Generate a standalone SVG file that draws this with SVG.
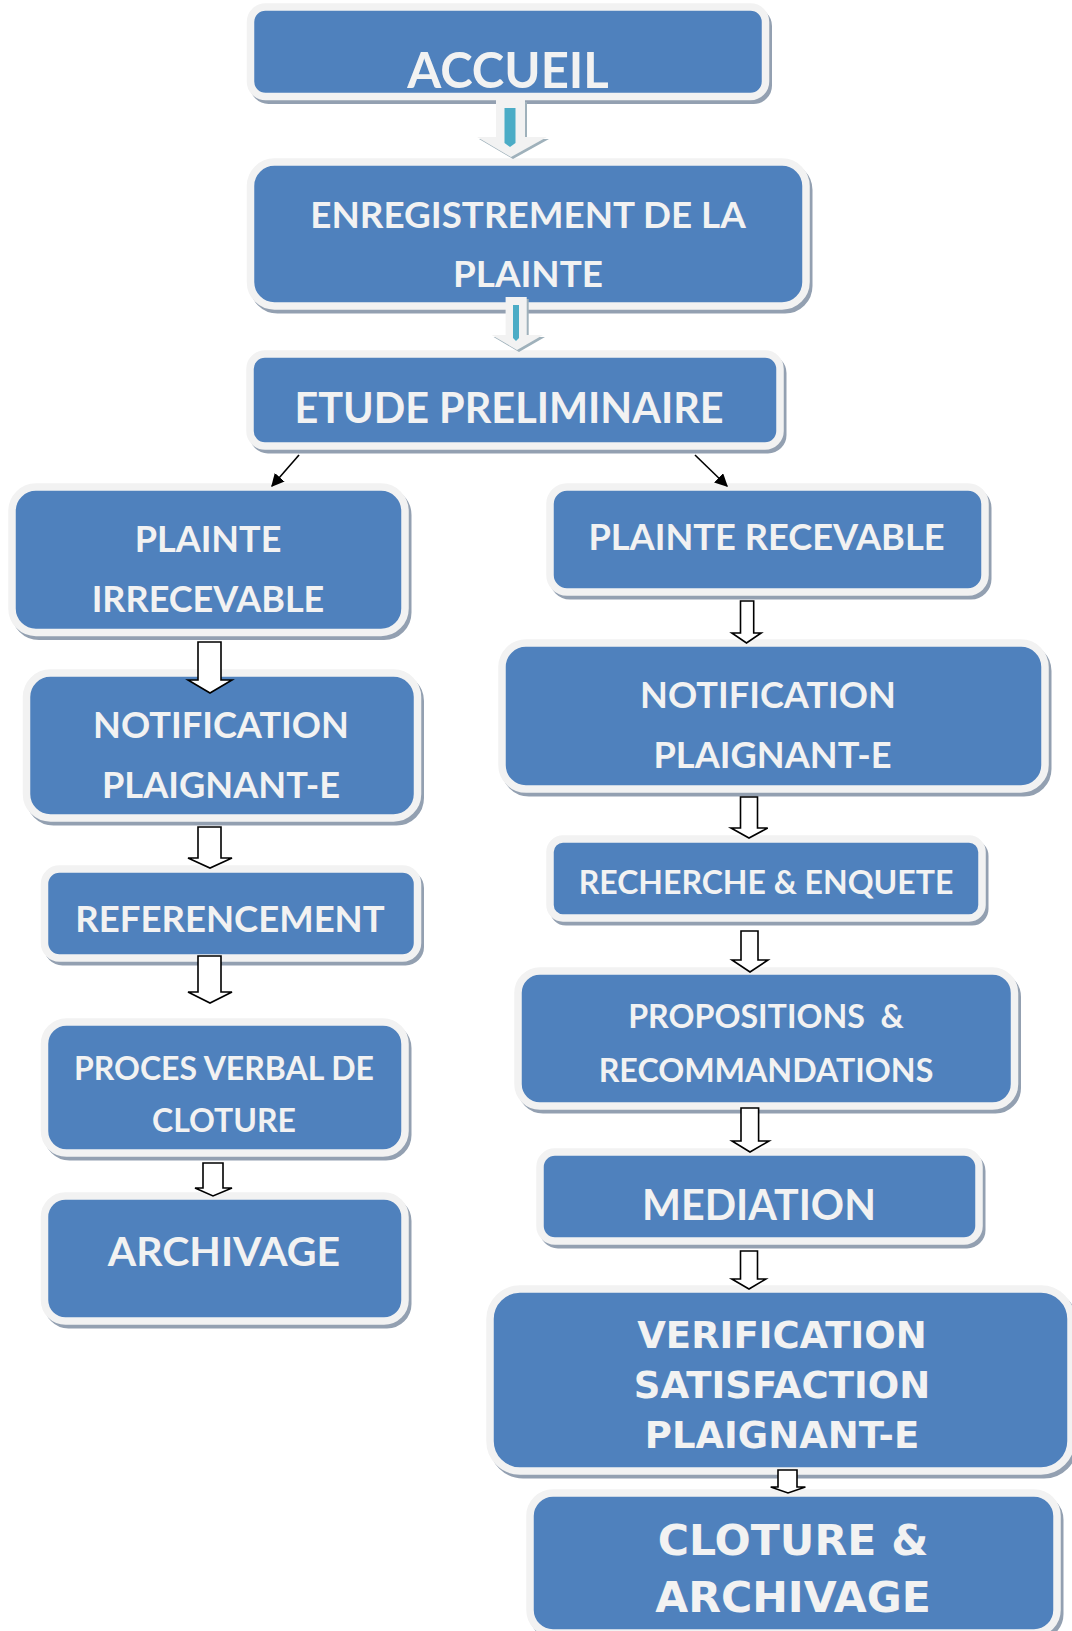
<svg xmlns="http://www.w3.org/2000/svg" width="1072" height="1631" viewBox="0 0 1072 1631">
<style>
.sh{fill:#93a0b1;stroke:#93a0b1;stroke-width:7}
.bx{fill:#4f81bd;stroke:#f2f2f2;stroke-width:7.5}
.t{font-family:Lato,"Noto Sans",sans-serif;font-weight:bold;fill:#f2f2f2;text-anchor:middle}
.d{font-family:"DejaVu Sans",sans-serif;font-weight:bold;fill:#f2f2f2;text-anchor:middle}
.ar{fill:#ffffff;stroke:#000000;stroke-width:1.6;stroke-linejoin:miter}
.ln{stroke:#000000;stroke-width:1.6;fill:none}
.ca{fill:#f2f2f2}
.cs{fill:#9fb1bb}
.cy{fill:#4bacc6}
</style>
<defs>
<marker id="ah" viewBox="0 0 10 10" refX="9" refY="5" markerWidth="13" markerHeight="13" markerUnits="userSpaceOnUse" orient="auto">
<path d="M0,0 L10,5 L0,10 z" fill="#000000"/>
</marker>
</defs>

<g id="n-accueil">
<rect class="sh" x="253.5" y="11" width="515" height="89.5" rx="15"/>
<rect class="bx" x="250.5" y="7" width="515" height="89.5" rx="15"/>
<text class="t" x="508" y="88" font-size="49">ACCUEIL</text>
</g>

<g id="n-enregistrement">
<rect class="sh" x="253.5" y="166" width="555.5" height="144" rx="24"/>
<rect class="bx" x="250.5" y="162" width="555.5" height="144" rx="24"/>
<text class="t" x="528" y="228" font-size="36.8">ENREGISTREMENT DE LA</text>
<text class="t" x="528" y="287" font-size="36.8">PLAINTE</text>
</g>

<g id="n-etude">
<rect class="sh" x="253" y="358" width="530" height="92" rx="15"/>
<rect class="bx" x="250" y="354" width="530" height="92" rx="15"/>
<text class="t" x="509" y="423" font-size="41.4">ETUDE PRELIMINAIRE</text>
</g>

<g id="n-irrecevable">
<rect class="sh" x="15" y="491" width="393" height="145.5" rx="24"/>
<rect class="bx" x="12" y="487" width="393" height="145.5" rx="24"/>
<text class="t" x="208" y="552" font-size="36">PLAINTE</text>
<text class="t" x="208" y="612" font-size="36">IRRECEVABLE</text>
</g>

<g id="n-notif-l">
<rect class="sh" x="29.5" y="677" width="391" height="145" rx="24"/>
<rect class="bx" x="26.5" y="673" width="391" height="145" rx="24"/>
<text class="t" x="221" y="738" font-size="36.2">NOTIFICATION</text>
<text class="t" x="221" y="798" font-size="36.2">PLAIGNANT-E</text>
</g>

<g id="n-referencement">
<rect class="sh" x="47.5" y="873" width="373" height="89" rx="15"/>
<rect class="bx" x="44.5" y="869" width="373" height="89" rx="15"/>
<text class="t" x="230" y="932" font-size="36.5">REFERENCEMENT</text>
</g>

<g id="n-proces">
<rect class="sh" x="47.5" y="1026" width="360.5" height="131" rx="22"/>
<rect class="bx" x="44.5" y="1022" width="360.5" height="131" rx="22"/>
<text class="t" x="224" y="1080" font-size="32">PROCES VERBAL DE</text>
<text class="t" x="224" y="1132" font-size="32">CLOTURE</text>
</g>

<g id="n-archivage">
<rect class="sh" x="47.5" y="1200" width="360.5" height="125" rx="21"/>
<rect class="bx" x="44.5" y="1196" width="360.5" height="125" rx="21"/>
<text class="t" x="224" y="1266" font-size="41">ARCHIVAGE</text>
</g>

<g id="n-recevable">
<rect class="sh" x="553" y="491" width="435" height="105" rx="17"/>
<rect class="bx" x="550" y="487" width="435" height="105" rx="17"/>
<text class="t" x="766.5" y="550" font-size="36.2">PLAINTE RECEVABLE</text>
</g>

<g id="n-notif-r">
<rect class="sh" x="505" y="647" width="543" height="146" rx="24"/>
<rect class="bx" x="502" y="643" width="543" height="146" rx="24"/>
<text class="t" x="768" y="708" font-size="36.2">NOTIFICATION</text>
<text class="t" x="772.5" y="768" font-size="36.2">PLAIGNANT-E</text>
</g>

<g id="n-recherche">
<rect class="sh" x="553" y="843" width="432" height="79" rx="13"/>
<rect class="bx" x="550" y="839" width="432" height="79" rx="13"/>
<text class="t" x="766" y="894" font-size="32">RECHERCHE &amp; ENQUETE</text>
</g>

<g id="n-propositions">
<rect class="sh" x="521" y="975" width="496.5" height="135" rx="22"/>
<rect class="bx" x="518" y="971" width="496.5" height="135" rx="22"/>
<text class="t" x="766" y="1028" font-size="32.2" xml:space="preserve">PROPOSITIONS  &amp;</text>
<text class="t" x="766" y="1082" font-size="32.2">RECOMMANDATIONS</text>
</g>

<g id="n-mediation">
<rect class="sh" x="543" y="1156" width="439" height="89" rx="15"/>
<rect class="bx" x="540" y="1152" width="439" height="89" rx="15"/>
<text class="t" x="759" y="1220" font-size="41.2">MEDIATION</text>
</g>

<g id="n-verification">
<rect class="sh" x="493" y="1293" width="581" height="182" rx="30"/>
<rect class="bx" x="490" y="1289" width="581" height="182" rx="30"/>
<text class="d" x="782" y="1348" font-size="37">VERIFICATION</text>
<text class="d" x="782" y="1398" font-size="37">SATISFACTION</text>
<text class="d" x="782" y="1448" font-size="37">PLAIGNANT-E</text>
</g>

<g id="n-cloture">
<rect class="sh" x="533" y="1497" width="527" height="140" rx="23"/>
<rect class="bx" x="530" y="1493" width="527" height="140" rx="23"/>
<text class="d" x="793" y="1555" font-size="42.6">CLOTURE &amp;</text>
<text class="d" x="793" y="1612" font-size="42.6">ARCHIVAGE</text>
</g>

<g id="connectors">
<path class="cs" d="M498,102 H527 V139 H549 L513,159 L479,139 H498 Z"/>
<path class="ca" d="M496,100 H525 V137 H547 L511,157 L477,137 H496 Z"/>
<path class="cy" d="M504.5,108 H515.5 V143 L510,147 L504.5,143 Z"/>

<path class="cs" d="M507.6,299 H528.7 V337 H545 L519,352 L493.6,337 H507.6 Z"/>
<path class="ca" d="M505.6,297 H526.7 V335 H543 L517,350 L491.6,335 H505.6 Z"/>
<path class="cy" d="M513,305 H519 V338 L516,341 L513,338 Z"/>

<line class="ln" x1="299" y1="455" x2="272" y2="486" marker-end="url(#ah)"/>
<line class="ln" x1="695" y1="455" x2="727" y2="486" marker-end="url(#ah)"/>

<path class="ar" d="M198,642 H221 V680 H232 L210,693 L188,680 H198 Z"/>
<path class="ar" d="M198,827 H221 V858 H232 L210,868 L188,858 H198 Z"/>
<path class="ar" d="M198,956 H221 V992 H232 L210,1003 L188,992 H198 Z"/>
<path class="ar" d="M203,1163 H223 V1188 H232 L213,1196 L195,1188 H203 Z"/>

<path class="ar" d="M740.5,601 H753.7 V633 H761.2 L746.5,643 L731.8,633 H740.5 Z"/>
<path class="ar" d="M740.5,797 H757.5 V828 H767.7 L749,838 L731,828 H740.5 Z"/>
<path class="ar" d="M741,931 H758 V960 H768 L750,972 L732,960 H741 Z"/>
<path class="ar" d="M741,1108 H758.6 V1141 H769 L750,1152 L732,1141 H741 Z"/>
<path class="ar" d="M740.5,1251 H757.5 V1279 H765.8 L749,1289 L731.8,1279 H740.5 Z"/>
<path class="ar" d="M778,1470 H797 V1487 H805.4 L788,1493 L770.7,1487 H778 Z"/>
</g>
</svg>
